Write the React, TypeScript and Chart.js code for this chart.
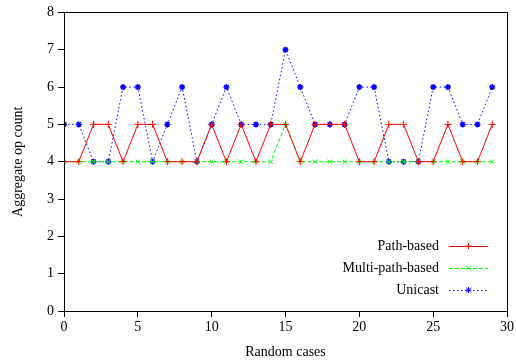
import React, { useEffect, useRef } from "react";
import { Chart, registerables } from "chart.js";

Chart.register(...registerables);

const cases = [0, 1, 2, 3, 4, 5, 6, 7, 8, 9, 10, 11, 12, 13, 14, 15, 16, 17, 18, 19, 20, 21, 22, 23, 24, 25, 26, 27, 28, 29];
const pathBased = [4, 4, 5, 5, 4, 5, 5, 4, 4, 4, 5, 4, 5, 4, 5, 5, 4, 5, 5, 5, 4, 4, 5, 5, 4, 4, 5, 4, 4, 5];
const multiPathBased = [4, 4, 4, 4, 4, 4, 4, 4, 4, 4, 4, 4, 4, 4, 4, 5, 4, 4, 4, 4, 4, 4, 4, 4, 4, 4, 4, 4, 4, 4];
const unicast = [5, 5, 4, 4, 6, 6, 4, 5, 6, 4, 5, 6, 5, 5, 5, 7, 6, 5, 5, 5, 6, 6, 4, 4, 4, 6, 6, 5, 5, 6];
const seriesNames = ["Path-based", "Multi-path-based", "Unicast"];
const xTitle = "Random cases";
const yTitle = "Aggregate op count";

const FONT = "'Liberation Serif', 'DejaVu Serif', serif";

const frameAndLegend = {
  id: "frameAndLegend",
  afterDatasetsDraw(chart: any) {
    const { ctx, chartArea } = chart;
    ctx.save();
    ctx.strokeStyle = "#000";
    ctx.lineWidth = 1;
    ctx.strokeRect(
      Math.round(chartArea.left) + 0.5,
      Math.round(chartArea.top) + 0.5,
      Math.round(chartArea.right - chartArea.left),
      Math.round(chartArea.bottom - chartArea.top)
    );
    // legend
    const textRight = chartArea.right - 68;
    const lineStart = chartArea.right - 58;
    const lineEnd = chartArea.right - 19;
    const y0 = chartArea.bottom - 65;
    const gap = 22;
    ctx.font = `14px ${FONT}`;
    ctx.textAlign = "right";
    ctx.textBaseline = "middle";
    chart.data.datasets.forEach((ds: any, i: number) => {
      const y = y0 + i * gap;
      ctx.fillStyle = "#000";
      ctx.fillText(ds.label, textRight, y);
      ctx.strokeStyle = ds.borderColor;
      ctx.lineWidth = 1;
      ctx.setLineDash(ds.borderDash || []);
      ctx.beginPath();
      ctx.moveTo(lineStart, y + 0.5);
      ctx.lineTo(lineEnd, y + 0.5);
      ctx.stroke();
      ctx.setLineDash([]);
      const mx = (lineStart + lineEnd) / 2;
      const r = 3;
      ctx.beginPath();
      if (ds.pointStyle === "cross" || ds.pointStyle === "star") {
        ctx.moveTo(mx - r, y);
        ctx.lineTo(mx + r, y);
        ctx.moveTo(mx, y - r);
        ctx.lineTo(mx, y + r);
      }
      if (ds.pointStyle === "crossRot" || ds.pointStyle === "star") {
        const d = r * 0.8;
        ctx.moveTo(mx - d, y - d);
        ctx.lineTo(mx + d, y + d);
        ctx.moveTo(mx - d, y + d);
        ctx.lineTo(mx + d, y - d);
      }
      ctx.stroke();
    });
    ctx.restore();
  },
};

export default function App() {
  const ref = useRef<HTMLCanvasElement>(null);
  useEffect(() => {
    if (!ref.current) return;
    const mk = (vals: number[]) => cases.map((c, i) => ({ x: c, y: vals[i] }));
    const chart = new Chart(ref.current, {
      type: "line",
      data: {
        datasets: [
          {
            label: seriesNames[0],
            data: mk(pathBased),
            borderColor: "#ff0000",
            backgroundColor: "#ff0000",
            borderWidth: 1,
            pointStyle: "cross",
            pointRadius: 3.5,
            pointBorderWidth: 1,
            fill: false,
            tension: 0,
          },
          {
            label: seriesNames[1],
            data: mk(multiPathBased),
            borderColor: "#00ff00",
            backgroundColor: "#00ff00",
            borderWidth: 1,
            borderDash: [4, 2],
            pointStyle: "crossRot",
            pointRadius: 3,
            pointBorderWidth: 1,
            fill: false,
            tension: 0,
          },
          {
            label: seriesNames[2],
            data: mk(unicast),
            borderColor: "#0000ff",
            backgroundColor: "#0000ff",
            borderWidth: 1,
            borderDash: [1.5, 2.5],
            pointStyle: "star",
            pointRadius: 3,
            pointBorderWidth: 1.5,
            fill: false,
            tension: 0,
          },
        ],
      },
      options: {
        animation: false,
        responsive: false,
        maintainAspectRatio: false,
        layout: { padding: { left: 0, right: 8, top: 10, bottom: 0 } },
        plugins: {
          legend: { display: false },
          tooltip: { enabled: false },
        },
        scales: {
          x: {
            type: "linear",
            min: 0,
            max: 30,
            ticks: {
              stepSize: 5,
              color: "#000",
              font: { family: FONT, size: 14 },
              padding: 2,
            },
            grid: {
              drawOnChartArea: false,
              color: "#000",
              tickLength: 6,
            },
            border: { color: "#000" },
            title: {
              display: true,
              text: xTitle,
              color: "#000",
              font: { family: FONT, size: 14 },
              padding: { top: 0, bottom: 0 },
            },
            afterFit: (s: any) => {
              s.height = 50;
            },
          },
          y: {
            min: 0,
            max: 8,
            ticks: {
              stepSize: 1,
              color: "#000",
              font: { family: FONT, size: 14 },
              padding: 4,
            },
            grid: {
              drawOnChartArea: false,
              color: "#000",
              tickLength: 6,
            },
            border: { color: "#000" },
            title: {
              display: true,
              text: yTitle,
              color: "#000",
              font: { family: FONT, size: 14 },
              padding: { top: 10, bottom: 0 },
            },
            afterFit: (s: any) => {
              s.width = 64;
            },
          },
        },
      },
      plugins: [frameAndLegend],
    });
    return () => chart.destroy();
  }, []);
  return (
    <div style={{ position: "fixed", left: 0, top: 0, width: 516, height: 361, background: "#fff" }}>
      <canvas ref={ref} width={516} height={361} style={{ width: 516, height: 361 }} />
    </div>
  );
}
